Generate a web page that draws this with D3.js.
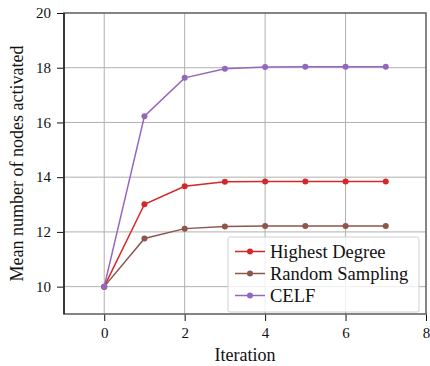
<!DOCTYPE html>
<html>
<head>
<meta charset="utf-8">
<script src="https://cdn.jsdelivr.net/npm/d3@7"></script>
<style>
  body { margin: 0; background: #fff; }
  svg { display: block; }
</style>
</head>
<body>
<div id="chart"></div>
<script>
const iterations = [0, 1, 2, 3, 4, 5, 6, 7];
const seriesNames = ['Highest Degree', 'Random Sampling', 'CELF'];
const highestDegree = [10, 13.01, 13.67, 13.83, 13.84, 13.84, 13.84, 13.84];
const randomSampling = [10, 11.76, 12.12, 12.2, 12.22, 12.22, 12.22, 12.22];
const celf = [10, 16.23, 17.63, 17.96, 18.03, 18.04, 18.04, 18.04];
const xTicks = [0, 2, 4, 6, 8];
const yTicks = [10, 12, 14, 16, 18, 20];
const colors = ['#d62728', '#8c564b', '#9467bd'];

const FONT = "'Liberation Serif', 'Times New Roman', serif";

const series = [highestDegree, randomSampling, celf].map((vals, i) => ({
  name: seriesNames[i],
  color: colors[i],
  points: iterations.map((it, j) => ({ x: it, y: vals[j] })),
}));

const width = 430, height = 366;
const margin = { top: 13, right: 4, bottom: 52, left: 64 };
const innerWidth = width - margin.left - margin.right;
const innerHeight = height - margin.top - margin.bottom;

const x = d3.scaleLinear().domain([-1, 8]).range([0, innerWidth]);
const y = d3.scaleLinear().domain([9, 20]).range([innerHeight, 0]);

const svg = d3.select('#chart').append('svg').attr('width', width).attr('height', height)
  .style('font-family', FONT);
const g = svg.append('g').attr('transform', `translate(${margin.left},${margin.top})`);

// grid
g.append('g').selectAll('line').data(xTicks.slice(0, -1)).join('line')
  .attr('x1', (d) => x(d)).attr('x2', (d) => x(d))
  .attr('y1', 0).attr('y2', innerHeight)
  .attr('stroke', '#b0b0b0').attr('stroke-width', 1);
g.append('g').selectAll('line').data(yTicks.slice(0, -1)).join('line')
  .attr('x1', 0).attr('x2', innerWidth)
  .attr('y1', (d) => y(d)).attr('y2', (d) => y(d))
  .attr('stroke', '#b0b0b0').attr('stroke-width', 1);

// axes
const xAxis = g.append('g').attr('transform', `translate(0,${innerHeight})`)
  .call(d3.axisBottom(x).tickValues(xTicks).tickSize(7).tickPadding(6).tickSizeOuter(0));
const yAxis = g.append('g')
  .call(d3.axisLeft(y).tickValues(yTicks).tickSize(7).tickPadding(6).tickSizeOuter(0));
[xAxis, yAxis].forEach((a) => {
  a.attr('font-family', null).attr('font-size', null);
  a.select('.domain').remove();
  a.selectAll('.tick line').attr('stroke', '#111').attr('stroke-width', 1);
  a.selectAll('.tick text').style('font-family', FONT).style('font-size', '15px').attr('fill', '#111');
});

// spines
g.append('rect').attr('x', 0).attr('y', 0).attr('width', innerWidth).attr('height', innerHeight)
  .attr('fill', 'none').attr('stroke', '#666').attr('stroke-width', 1.6);
g.append('line').attr('x1', 0).attr('x2', 0).attr('y1', 0).attr('y2', innerHeight)
  .attr('stroke', '#111').attr('stroke-width', 1.3);

// lines
const line = d3.line().x((d) => x(d.x)).y((d) => y(d.y));
const sg = g.selectAll('.series').data(series).join('g').attr('class', 'series');
sg.append('path').attr('d', (d) => line(d.points))
  .attr('fill', 'none').attr('stroke', (d) => d.color).attr('stroke-width', 1.5);
sg.selectAll('circle').data((d) => d.points.map((p) => ({ ...p, color: d.color }))).join('circle')
  .attr('cx', (d) => x(d.x)).attr('cy', (d) => y(d.y)).attr('r', 3)
  .attr('fill', (d) => d.color);

// legend
const lg = g.append('g').attr('transform', `translate(${228 - margin.left},${237 - margin.top})`);
lg.append('rect').attr('width', 191).attr('height', 75).attr('rx', 2)
  .attr('fill', 'rgba(255,255,255,0.8)').attr('stroke', '#d0d0d0').attr('stroke-width', 1);
const item = lg.selectAll('.item').data(series).join('g')
  .attr('transform', (d, i) => `translate(0,${14.5 + i * 22})`);
item.append('line').attr('x1', 7).attr('x2', 37)
  .attr('stroke', (d) => d.color).attr('stroke-width', 1.5);
item.append('circle').attr('cx', 22).attr('r', 3).attr('fill', (d) => d.color);
item.append('text').attr('x', 42).attr('dy', '0.35em').style('font-size', '18.5px')
  .attr('fill', '#111').text((d) => d.name);

// axis labels
svg.append('text').attr('x', margin.left + x(3.5)).attr('y', 361)
  .attr('text-anchor', 'middle').style('font-size', '18px').attr('fill', '#111').text('Iteration');
svg.append('text').attr('transform', `translate(23,${margin.top + innerHeight / 2}) rotate(-90)`)
  .attr('text-anchor', 'middle').style('font-size', '18px').attr('fill', '#111')
  .text('Mean number of nodes activated');
</script>
</body>
</html>
